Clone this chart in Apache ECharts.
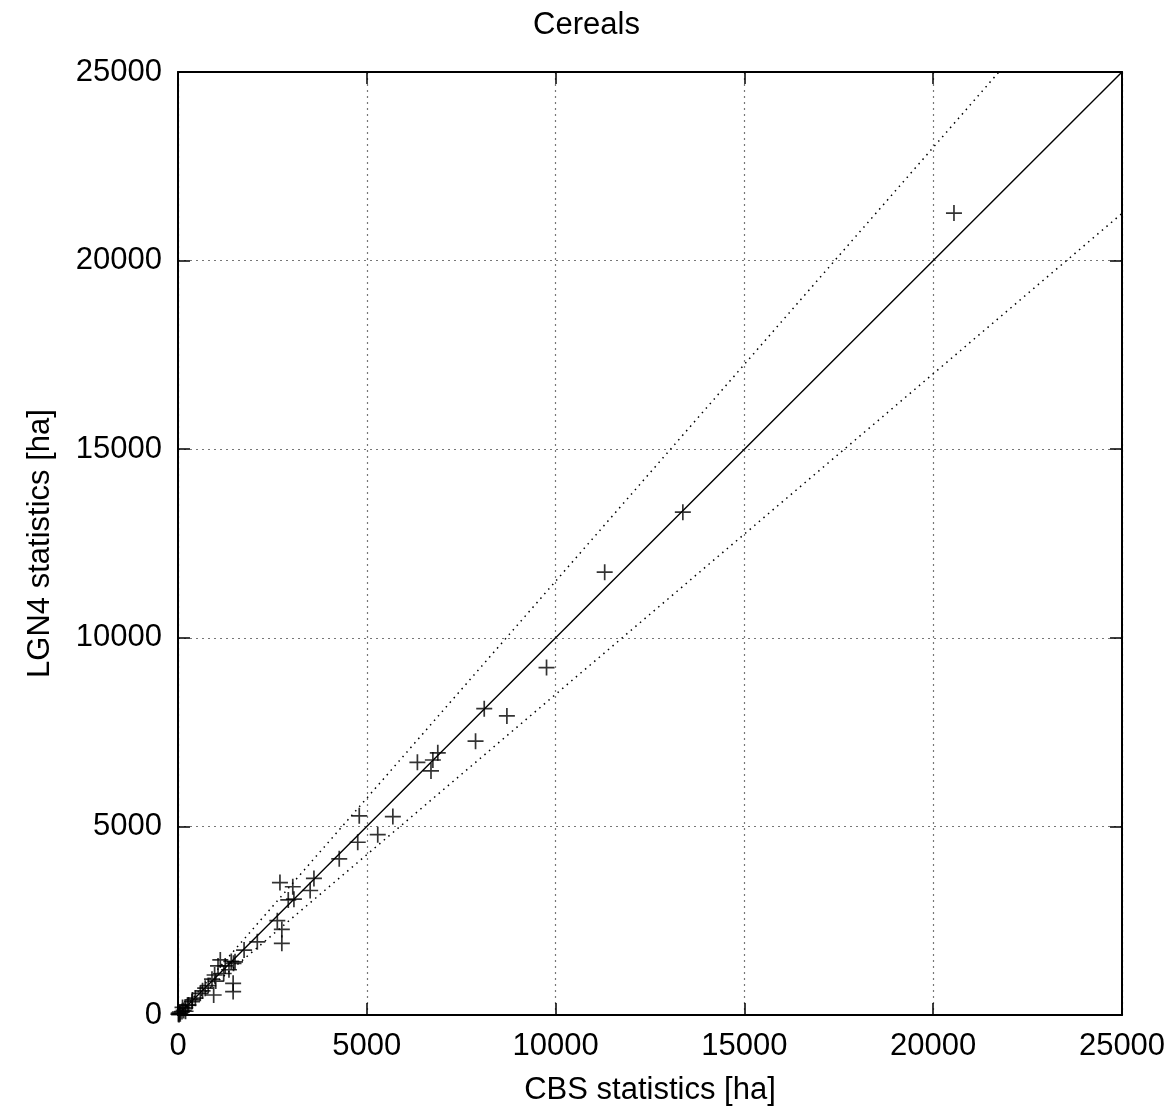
<!DOCTYPE html>
<html>
<head>
<meta charset="utf-8">
<title>Cereals</title>
<script src="https://cdn.jsdelivr.net/npm/echarts@6/dist/echarts.min.js"></script>
<style>
  html, body { margin: 0; padding: 0; background: #fff; }
  #chart { width: 1173px; height: 1115px; }
</style>
</head>
<body>
<div id="chart"></div>
<script>
  // CBS statistics (x) and LGN4 statistics (y), ha
  var cbsHa = [20550, 13370, 11300, 9760, 8710, 8110, 7880, 6880, 6750, 6700,
    6340, 5690, 4800, 5290, 4760, 4270, 3600, 3500, 2700, 3040,
    2920, 3070, 2630, 2750, 2750, 2100, 1750, 1470, 1460, 1460,
    1410, 1510, 1120, 1060, 1210, 970, 900, 945, 1000, 720,
    590, 460, 370, 280, 190, 105, 50, 20, 150, 250,
    380, 650, 800, 1250, 1350, 60, 30, 10, 200, 120];
  var lgnHa = [21260, 13330, 11740, 9210, 7930, 8120, 7260, 6950, 6760, 6470,
    6700, 5260, 5280, 4780, 4580, 4140, 3620, 3300, 3510, 3400,
    3050, 3070, 2500, 2270, 1900, 1940, 1720, 1370, 840, 620,
    1420, 1410, 1460, 1300, 1100, 1060, 950, 530, 900, 710,
    575, 445, 355, 265, 180, 90, 80, 50, 120, 260,
    400, 640, 780, 1300, 1200, 30, 10, 20, 100, 200];
  // reference lines y = k * x
  var slopes = [1, 1.15, 0.85];
  var axisMax = 25000;
  var tickStep = 5000;

  var points = [];
  for (var i = 0; i < cbsHa.length; i++) {
    points.push([cbsHa[i], lgnHa[i]]);
  }

  var font = '"Liberation Sans", Arial, Helvetica, sans-serif';
  var fontSize = 31;
  var CROSS = 'path://M10,0L10,20M0,10L20,10';

  function refLine(k) {
    var x1 = Math.min(axisMax, axisMax / k);
    return {
      type: 'line',
      data: [[0, 0], [x1, k * x1]],
      symbol: 'none',
      silent: true,
      clip: true,
      z: 3,
      lineStyle: k === 1
        ? { color: '#000', width: 1.4, type: 'solid' }
        : { color: '#000', width: 1.5, type: [1.5, 4.5] }
    };
  }

  function mainAxis(name, gap, pos) {
    return {
      type: 'value',
      position: pos,
      min: 0,
      max: axisMax,
      interval: tickStep,
      name: name,
      nameLocation: 'middle',
      nameGap: gap,
      nameTextStyle: { fontFamily: font, fontSize: fontSize, color: '#000' },
      axisLine: { show: true, onZero: false, lineStyle: { color: '#000', width: 2 } },
      axisTick: { show: true, inside: true, length: 12, lineStyle: { color: '#000', width: 1.5 } },
      axisLabel: {
        fontFamily: font, fontSize: fontSize, color: '#000', margin: 16,
        formatter: function (v) { return String(v); }
      },
      splitLine: { show: true, lineStyle: { color: '#777', width: 1.2, type: [2, 4] } }
    };
  }

  function mirrorAxis(pos) {
    return {
      type: 'value',
      position: pos,
      min: 0,
      max: axisMax,
      interval: tickStep,
      axisLine: { show: true, onZero: false, lineStyle: { color: '#000', width: 2 } },
      axisTick: { show: true, inside: true, length: 12, lineStyle: { color: '#000', width: 1.5 } },
      axisLabel: { show: false },
      splitLine: { show: false }
    };
  }

  var chart = echarts.init(document.getElementById('chart'));
  var series = slopes.map(refLine);
  series.push({
    type: 'scatter',
    data: points,
    symbol: CROSS,
    symbolSize: 16,
    z: 4,
    itemStyle: { color: 'rgba(0,0,0,0)', borderColor: '#000', borderWidth: 1.7 }
  });

  chart.setOption({
    backgroundColor: '#fff',
    animation: false,
    title: {
      text: 'Cereals',
      left: 'center',
      top: 5,
      textStyle: { fontFamily: font, fontSize: fontSize, fontWeight: 'normal', color: '#000' }
    },
    grid: { left: 178, right: 51, top: 72, bottom: 100 },
    xAxis: [mainAxis('CBS statistics [ha]', 60, 'bottom'), mirrorAxis('top')],
    yAxis: [mainAxis('LGN4 statistics [ha]', 122, 'left'), mirrorAxis('right')],
    series: series
  });

  window.addEventListener('resize', function () {
    chart.resize();
  });
</script>
</body>
</html>
